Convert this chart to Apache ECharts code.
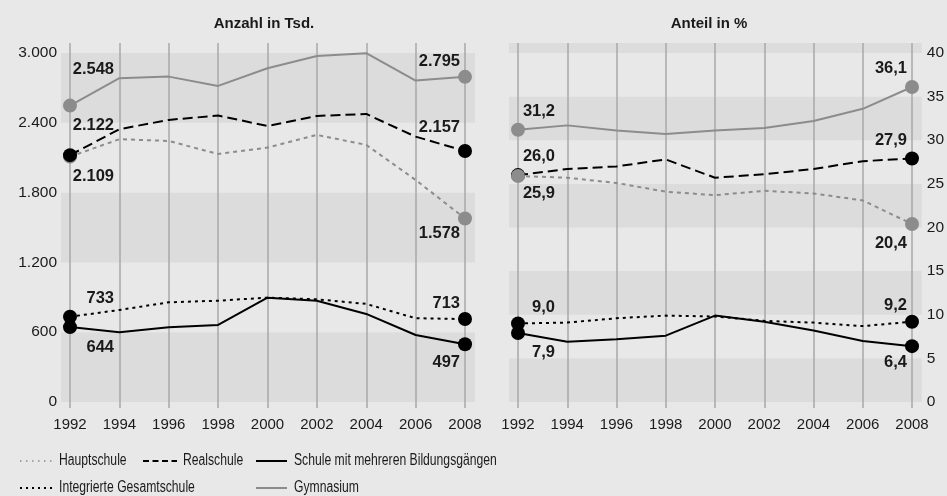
<!DOCTYPE html>
<html>
<head>
<meta charset="utf-8">
<script src="https://cdn.jsdelivr.net/npm/echarts@6/dist/echarts.min.js"></script>
</head>
<body style="margin:0;background:#e8e8e8">
<div id="chart" style="width:947px;height:496px"></div>
<script>
var years = [1992, 1994, 1996, 1998, 2000, 2002, 2004, 2006, 2008];

// Anzahl in Tsd.
var countHaupt = [2109, 2259, 2244, 2132, 2187, 2296, 2210, 1909, 1578];
var countReal  = [2122, 2345, 2425, 2462, 2373, 2459, 2476, 2281, 2157];
var countGym   = [2548, 2783, 2797, 2717, 2869, 2975, 2998, 2763, 2795];
var countIGS   = [733, 791, 857, 871, 897, 883, 843, 720, 713];
var countSMB   = [644, 599, 642, 662, 897, 871, 757, 576, 497];

// Anteil in %
var shareHaupt = [25.9, 25.7, 25.1, 24.1, 23.7, 24.2, 23.9, 23.1, 20.4];
var shareReal  = [26.0, 26.7, 27.0, 27.8, 25.7, 26.1, 26.7, 27.6, 27.9];
var shareGym   = [31.2, 31.7, 31.1, 30.7, 31.1, 31.4, 32.2, 33.6, 36.1];
var shareIGS   = [9.0, 9.1, 9.6, 9.9, 9.8, 9.3, 9.1, 8.7, 9.2];
var shareSMB   = [7.9, 6.9, 7.2, 7.6, 9.9, 9.2, 8.2, 7.0, 6.4];

var countTicks = [0, 600, 1200, 1800, 2400, 3000];
var shareTicks = [0, 5, 10, 15, 20, 25, 30, 35, 40];

var GRAY = '#8c8c8c';
var BLACK = '#000';
var TEXT = '#1a1a1a';
var FONT = 'Liberation Sans';

function fmtCount(v) {
  return String(v).replace(/\B(?=(\d{3})+(?!\d))/g, '.');
}
function fmtShare(v) {
  return v.toFixed(1).replace('.', ',');
}

var styles = {
  haupt: {color: GRAY, type: [4, 4]},
  real: {color: BLACK, type: [10, 5]},
  gym: {color: GRAY, type: 'solid'},
  igs: {color: BLACK, type: [3, 4]},
  smb: {color: BLACK, type: 'solid'}
};

// label offsets [dx, dy] from the first / last point (text right-aligned)
function makeSeries(name, values, axis, st, offFirst, offLast, fmt) {
  var last = values.length - 1;
  return {
    type: 'line',
    name: name,
    xAxisIndex: axis,
    yAxisIndex: axis,
    symbol: 'circle',
    showSymbol: true,
    showAllSymbol: true,
    silent: true,
    lineStyle: {color: st.color, width: 2, type: st.type},
    itemStyle: {color: st.color},
    data: values.map(function (v, i) {
      var item = {value: [years[i], v], symbolSize: 0};
      if (i === 0 || i === last) {
        var o = i === 0 ? offFirst : offLast;
        item.symbolSize = 14;
        item.label = {
          show: true,
          position: [o[0] + 7, o[1] + 7],
          align: 'right',
          verticalAlign: 'middle',
          formatter: fmt(v),
          fontSize: 16.5,
          fontWeight: 'bold',
          color: TEXT,
          fontFamily: FONT
        };
      }
      return item;
    })
  };
}

// legend entries drawn by hand (narrow text)
function legendText(x, y, text) {
  return {type: 'text', x: x, y: y, scaleX: 0.76,
    style: {text: text, fill: TEXT, font: '16px ' + FONT, verticalAlign: 'middle'}};
}
function legendLine(x1, x2, y, color, width, dash) {
  return {type: 'line', shape: {x1: x1, y1: y, x2: x2, y2: y},
    style: {stroke: color, lineWidth: width, lineDash: dash || null}};
}

var bands = ['#dcdcdc', '#e8e8e8'];

var xCommon = {
  type: 'value', min: 1992, max: 2008, interval: 2,
  axisLine: {show: false},
  axisTick: {show: true, length: 6, lineStyle: {color: '#a8a8a8', width: 1.5}},
  splitLine: {show: true, lineStyle: {color: '#a8a8a8', width: 1.5}},
  axisLabel: {margin: 15, fontSize: 15, color: TEXT, formatter: function (v) { return String(v); }}
};

var option = {
  backgroundColor: '#e8e8e8',
  animation: false,
  textStyle: {fontFamily: FONT},
  grid: [
    {left: 61, right: 472, top: 43, bottom: 94},
    {left: 70, right: 482, top: 43, bottom: 94},
    {left: 509, right: 25, top: 43, bottom: 94},
    {left: 518, right: 35, top: 43, bottom: 94}
  ],
  xAxis: [
    {gridIndex: 0, type: 'value', min: 0, max: 1, show: false},
    Object.assign({gridIndex: 1}, xCommon),
    {gridIndex: 2, type: 'value', min: 0, max: 1, show: false},
    Object.assign({gridIndex: 3}, xCommon)
  ],
  yAxis: [
    {gridIndex: 0, type: 'value', min: 0, max: 3086, interval: 600,
      axisLine: {show: false}, axisTick: {show: false}, splitLine: {show: false},
      splitArea: {show: true, areaStyle: {color: bands}},
      axisLabel: {margin: 4, fontSize: 15.5, color: TEXT,
        formatter: function (v) { return countTicks.indexOf(v) >= 0 ? fmtCount(v) : ''; }}},
    {gridIndex: 1, type: 'value', min: 0, max: 3086, interval: 600, show: false, splitLine: {show: false}},
    {gridIndex: 2, type: 'value', position: 'right', min: 0, max: 41.14, interval: 5,
      axisLine: {show: false}, axisTick: {show: false}, splitLine: {show: false},
      splitArea: {show: true, areaStyle: {color: bands}},
      axisLabel: {margin: 5, fontSize: 15.5, color: TEXT,
        formatter: function (v) { return shareTicks.indexOf(v) >= 0 ? String(v) : ''; }}},
    {gridIndex: 3, type: 'value', min: 0, max: 41.14, interval: 5, show: false, splitLine: {show: false}}
  ],
  series: [
    makeSeries('Gymnasium', countGym, 1, styles.gym, [44, -36], [-5, -15], fmtCount),
    makeSeries('Hauptschule', countHaupt, 1, styles.haupt, [44, 20], [-5, 15], fmtCount),
    makeSeries('Realschule', countReal, 1, styles.real, [44, -30], [-5, -24], fmtCount),
    makeSeries('Integrierte Gesamtschule', countIGS, 1, styles.igs, [44, -18], [-5, -16], fmtCount),
    makeSeries('Schule mit mehreren Bildungsgängen', countSMB, 1, styles.smb, [44, 20], [-5, 18], fmtCount),

    makeSeries('Gymnasium', shareGym, 3, styles.gym, [37, -18], [-5, -19], fmtShare),
    makeSeries('Realschule', shareReal, 3, styles.real, [37, -19], [-5, -18], fmtShare),
    makeSeries('Hauptschule', shareHaupt, 3, styles.haupt, [37, 17], [-5, 19], fmtShare),
    makeSeries('Integrierte Gesamtschule', shareIGS, 3, styles.igs, [37, -16], [-5, -16], fmtShare),
    makeSeries('Schule mit mehreren Bildungsgängen', shareSMB, 3, styles.smb, [37, 19], [-5, 16], fmtShare)
  ],
  graphic: [
    {type: 'text', x: 264, y: 24, style: {text: 'Anzahl in Tsd.', fill: TEXT, font: 'bold 15px ' + FONT, align: 'center', verticalAlign: 'middle'}},
    {type: 'text', x: 709, y: 24, style: {text: 'Anteil in %', fill: TEXT, font: 'bold 15px ' + FONT, align: 'center', verticalAlign: 'middle'}},

    legendLine(20, 53, 461, GRAY, 1.5, [1.5, 4.5]),
    legendText(59, 461, 'Hauptschule'),
    legendLine(143, 177, 461, BLACK, 2, [6, 3.5]),
    legendText(183, 461, 'Realschule'),
    legendLine(256, 287, 461, BLACK, 2),
    legendText(294, 461, 'Schule mit mehreren Bildungsgängen'),
    legendLine(20, 53, 488, BLACK, 2, [2, 4]),
    legendText(59, 488, 'Integrierte Gesamtschule'),
    legendLine(256, 287, 488, GRAY, 2),
    legendText(294, 488, 'Gymnasium')
  ]
};

var myChart = echarts.init(document.getElementById('chart'));
myChart.setOption(option);
</script>
</body>
</html>
